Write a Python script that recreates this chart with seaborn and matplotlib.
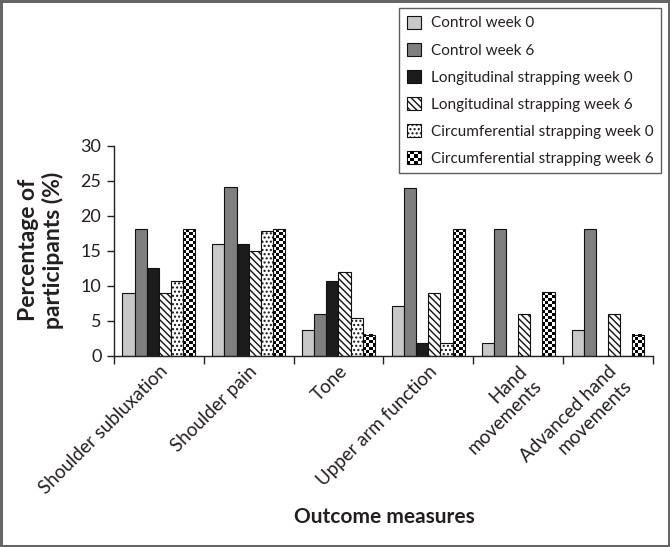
import numpy as np
import pandas as pd
import matplotlib
matplotlib.use("Agg")
import matplotlib.pyplot as plt
import seaborn as sns
from matplotlib.patches import Patch, Rectangle
from matplotlib.legend_handler import HandlerBase

# outcome measures (x categories)
measures = ["Shoulder subluxation", "Shoulder pain", "Tone", "Upper arm function",
            "Hand\nmovements", "Advanced hand\nmovements"]
groups = ["Control week 0", "Control week 6", "Longitudinal strapping week 0",
          "Longitudinal strapping week 6", "Circumferential strapping week 0",
          "Circumferential strapping week 6"]

# percentage of participants
control_w0 = [9.0, 15.9, 3.6, 7.1, 1.8, 3.6]
control_w6 = [18.1, 24.1, 5.9, 23.9, 18.1, 18.1]
long_w0 = [12.5, 16.0, 10.7, 1.8, 0.0, 0.0]
long_w6 = [9.0, 14.9, 12.0, 9.0, 6.0, 6.0]
circ_w0 = [10.7, 17.8, 5.3, 1.8, 0.0, 0.0]
circ_w6 = [18.1, 18.1, 3.0, 18.1, 9.1, 3.0]

series = [control_w0, control_w6, long_w0, long_w6, circ_w0, circ_w6]
df = pd.DataFrame([(m, g, v) for g, vals in zip(groups, series) for m, v in zip(measures, vals)],
                  columns=["measure", "group", "value"])

sns.set_style("white")
plt.rcParams["font.family"] = ["Lato", "DejaVu Sans"]
text_col = "#231f20"

fills = ["#c8c8c8", "#7f7f7f", "#1c1c1c", "white", "white", "white"]
hatches = [None, None, None, "\\\\\\\\\\", "....", None]
plt.rcParams["hatch.linewidth"] = 1.0

fig = plt.figure(figsize=(6.7, 5.47), dpi=100)
ax = fig.add_axes([0.170, 0.350, 0.8045, 0.384])

sns.barplot(data=df, x="measure", y="value", hue="group", hue_order=groups,
            palette=dict(zip(groups, fills)), edgecolor="#111111", linewidth=0.8,
            width=0.81, saturation=1, legend=False, ax=ax)

ax.set_xlim(-0.5, 5.5)
ax.set_ylim(0, 30)

for cont, h in zip(ax.containers, hatches):
    if h:
        for bar in cont:
            bar.set_hatch(h)

# checkerboard fill for circumferential week 6
px_per_x = ax.transData.transform((1, 0))[0] - ax.transData.transform((0, 0))[0]
px_per_y = ax.transData.transform((0, 1))[1] - ax.transData.transform((0, 0))[1]
for bar in ax.containers[5]:
    x0, w, h = bar.get_x(), bar.get_width(), bar.get_height()
    if h <= 0:
        continue
    cell_px = w * px_per_x / 4
    nrow = max(1, int(round(h * px_per_y / cell_px)))
    ii, jj = np.indices((nrow, 4))
    arr = ((ii + jj) % 2).astype(float)
    ax.imshow(arr, cmap="gray", vmin=0, vmax=1, origin="lower", aspect="auto",
              interpolation="nearest", extent=(x0, x0 + w, 0, h), zorder=0.9)
    bar.set_facecolor("none")
ax.set_xlim(-0.5, 5.5)
ax.set_ylim(0, 30)

sns.despine(ax=ax)
for s in ["left", "bottom"]:
    ax.spines[s].set_color("#222222")
    ax.spines[s].set_linewidth(1.0)

ax.set_yticks(range(0, 31, 5))
ax.tick_params(axis="y", which="major", direction="out", length=5, width=1,
               color="#222222", labelsize=13, labelcolor=text_col, pad=4, left=True)
ax.set_xticks(np.arange(-0.5, 6, 1.0))
ax.set_xticklabels([])
ax.tick_params(axis="x", which="major", direction="out", length=6, width=1,
               color="#222222", bottom=True)
ax.set_xticks(np.arange(6), minor=True)
ax.set_xticklabels(measures, minor=True, rotation=45, ha="right", va="top",
                   rotation_mode="anchor", multialignment="right", fontsize=13.5,
                   color=text_col, linespacing=1.25)
ax.tick_params(axis="x", which="minor", length=0, pad=5)

ax.set_xlabel("")
ax.set_ylabel("")
fig.text(0.061, 0.543, "Percentage of\nparticipants (%)", rotation=90, ha="center",
         va="center", fontsize=16.5, fontweight="bold", color=text_col, linespacing=1.15)
fig.text(0.573, 0.055, "Outcome measures", ha="center", va="center", fontsize=15,
         fontweight="bold", color=text_col)


class HandlerChecker(HandlerBase):
    def create_artists(self, legend, orig_handle, xdescent, ydescent, width, height, fontsize, trans):
        arts = [Rectangle((-xdescent, -ydescent), width, height, fc="white", ec="#111111",
                          lw=0.8, transform=trans)]
        n = 4
        cw, ch = width / n, height / n
        for i in range(n):
            for j in range(n):
                if (i + j) % 2 == 0:
                    arts.append(Rectangle((-xdescent + i * cw, -ydescent + j * ch), cw, ch,
                                          fc="black", ec="none", transform=trans))
        return arts


handles = []
for g, fc, h in zip(groups, fills, hatches):
    handles.append(Patch(facecolor=fc, edgecolor="#111111", linewidth=0.8, hatch=h, label=g))
leg = fig.legend(handles=handles, labels=groups, loc="upper right",
                 bbox_to_anchor=(0.9866, 0.9854), borderaxespad=0, fontsize=11,
                 frameon=True, fancybox=False, handlelength=0.95, handleheight=0.95,
                 handletextpad=0.62, labelspacing=0.8, borderpad=0.5,
                 handler_map={handles[5]: HandlerChecker()})
leg.get_frame().set_edgecolor("#333333")
leg.get_frame().set_linewidth(1.0)
for t in leg.get_texts():
    t.set_color(text_col)

fig.patch.set_edgecolor("#666666")
fig.patch.set_linewidth(2.5)

fig.savefig("out.png", dpi=100, edgecolor=fig.get_edgecolor())
